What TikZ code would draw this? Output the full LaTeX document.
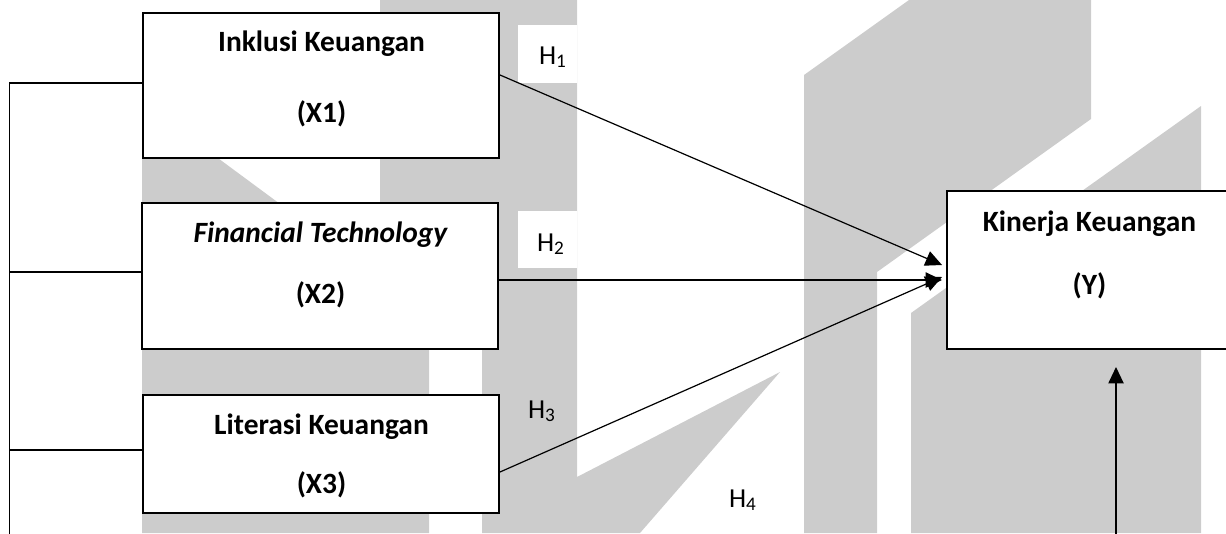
\documentclass[tikz,border=0pt]{standalone}
\usepackage{fontspec}
\setmainfont{Carlito}
\usetikzlibrary{arrows.meta}
\usetikzlibrary{positioning}
\usetikzlibrary{calc}
\usetikzlibrary{fit}
\definecolor{wmgray}{HTML}{CCCCCC}
\tikzset{varbox/.style = {draw, line width=0.9pt, fill=white, inner sep=0pt}}
\tikzset{vartext/.style = {font=\fontsize{13.4}{16}\selectfont\bfseries, anchor=base, inner sep=0pt}}
\tikzset{hyp/.style = {font=\fontsize{12.5}{15}\selectfont, anchor=base, inner sep=0pt}}
\tikzset{hbox/.style = {fill=white, inner sep=0pt}}
\tikzset{link/.style = {line width=0.5pt}}
\tikzset{arr/.style = {line width=0.55pt, -{Triangle[length=7.5pt,width=7pt]}}}

\begin{document}
\begin{tikzpicture}[x=0.016cm, y=-0.016cm]
	\useasboundingbox (0,0) rectangle (1226,533);
	% watermark in the background
	\fill[wmgray] (380,0) -- (577,0) -- (577,477) -- (780,372) -- (640,533) -- (482,533) -- (482,300) -- (380,300) -- cycle;
	\fill[wmgray] (142,102) -- (429,314) -- (429,533) -- (142,533) -- cycle;
	\fill[wmgray] (804,533) -- (804,75) -- (909,0) -- (1091,0) -- (1091,119) -- (877,272) -- (877,533) -- cycle;
	\fill[wmgray] (911,533) -- (911,313) -- (1201,106) -- (1201,533) -- cycle;

	\node[varbox, fit={(143,13) (499,158)}] (x1) {};
	\node[vartext] (x1a) at (321.5,51) {Inklusi Keuangan};
	\node[vartext] (x1b) at (321.5,122) {(X1)};
	\node[varbox, fit={(142,203) (498,349)}] (x2) {};
	\node[vartext] (x2a) at (320.5,242) {\itshape Financial Technology};
	\node[vartext] (x2b) at (320.5,303) {(X2)};
	\node[varbox, fit={(143,395) (499,513)}] (x3) {};
	\node[vartext] (x3a) at (321.5,434) {Literasi Keuangan};
	\node[vartext] (x3b) at (321.5,493) {(X3)};
	\node[varbox, fit={(947,191) (1232,349)}] (yk) {};
	\node[vartext] (yka) at (1089.5,231) {Kinerja Keuangan};
	\node[vartext] (ykb) at (1089.5,294) {(Y)};

	\node[hbox, fit={(518,25) (577,83)}] (h1bg) {};
	\node[hyp] (h1) at (553,64) {H\textsubscript{1}};
	\node[hbox, fit={(518,211) (577,268)}] (h2bg) {};
	\node[hyp] (h2) at (551,251) {H\textsubscript{2}};
	\node[hyp] (h3) at (542,418) {H\textsubscript{3}};
	\node[hyp] (h4) at (743,507) {H\textsubscript{4}};

	\draw[arr] ($(x1.east)+(0,-10.5)$) -- ($(yk.west)+(-4,-5)$);
	\draw[arr] ($(x2.east)+(0,4)$) -- ($(yk.west)+(-4,10)$);
	\draw[arr] ($(x3.east)+(0,18)$) -- ($(yk.west)+(-4,7)$);
	\coordinate (ybase) at (1116,540);
	\draw[arr] (ybase) -- ($(ybase |- yk.south)+(0,17)$);

	\coordinate (busend) at (9.5,540);
	\coordinate (x1in) at ($(x1.west)+(0,-2.5)$);
	\coordinate (x2in) at ($(x2.west)+(0,-4)$);
	\coordinate (x3in) at ($(x3.west)+(0,-4)$);
	\draw[link] (busend) |- (x1in);
	\draw[link] (x2in) -- (x2in -| busend);
	\draw[link] (x3in) -- (x3in -| busend);
\end{tikzpicture}
\end{document}
